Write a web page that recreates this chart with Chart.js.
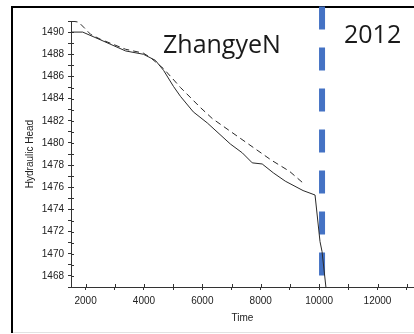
<!DOCTYPE html>
<html>
<head>
<meta charset="utf-8">
<script src="https://cdn.jsdelivr.net/npm/chart.js@4.4.1/dist/chart.umd.min.js"></script>
<style>
html, body { margin: 0; padding: 0; background: #fff; }
#wrap { position: relative; width: 414px; height: 334px; }
</style>
</head>
<body>
<div id="wrap"><canvas id="chart" width="414" height="334"></canvas></div>
<script>
// Data ------------------------------------------------------------------------------

var simTime = [1520, 1900, 2510, 3370, 3980, 4390, 4670, 5010, 5250, 5690, 6170,
               6960, 7370, 7710, 8050, 8430, 8840, 9450, 9860, 10030, 10100, 10240];
var simHead = [1490.0, 1490.0, 1489.3, 1488.3, 1488.0, 1487.45, 1486.55, 1485.1, 1484.2,
               1482.8, 1481.8, 1479.9, 1479.1, 1478.2, 1478.1, 1477.3, 1476.55, 1475.7,
               1475.3, 1471.1, 1470.2, 1466.8];

var obsTime = [1520, 1760, 1930, 2170, 2510, 3370, 3980, 4220, 4670, 4980, 5250,
               5930, 6340, 7200, 7740, 8360, 8980, 9420];
var obsHead = [1491.0, 1490.9, 1490.45, 1489.8, 1489.35, 1488.45, 1488.1, 1487.7, 1486.7,
               1485.8, 1485.0, 1483.2, 1482.2, 1480.6, 1479.6, 1478.45, 1477.45, 1476.45];

var markerTime = [10100, 10100];
var markerHead = [1492.3, 1467];

var xTickValues = [2000, 3000, 4000, 5000, 6000, 7000, 8000, 9000, 10000, 11000, 12000, 13000];
var yTickValues = [];
for (var v = 1467; v <= 1491; v++) yTickValues.push(v);

var STATION_LABEL = 'ZhangyeN';
var YEAR_LABEL = '2012';

// Helpers ---------------------------------------------------------------------------

function toPoints(xs, ys) {
    return xs.map(function (x, i) { return { x: x, y: ys[i] }; });
}

var TICK_FONT = { family: 'Liberation Sans', size: 10 };
var INK = '#222';

var framePlugin = {
    id: 'frame',
    beforeDraw: function (chart) {
        var ctx = chart.ctx;
        ctx.save();
        ctx.fillStyle = '#fff';
        ctx.fillRect(0, 0, chart.width, chart.height);
        ctx.fillStyle = '#000';
        ctx.fillRect(11, 6, chart.width - 11, 2);
        ctx.fillRect(11, 6, 2, 327);
        ctx.fillStyle = '#e2e2e2';
        ctx.fillRect(13, 332, chart.width - 13, 1);
        ctx.restore();
    },
    afterDraw: function (chart) {
        var ctx = chart.ctx;
        var xs = chart.scales.x, ys = chart.scales.y;
        ctx.save();
        // inner half of the cross ticks
        ctx.strokeStyle = '#333';
        ctx.lineWidth = 1;
        ctx.beginPath();
        xs.ticks.forEach(function (t) {
            var px = Math.round(xs.getPixelForValue(t.value)) + 0.5;
            ctx.moveTo(px, xs.top);
            ctx.lineTo(px, xs.top - 3);
        });
        ys.ticks.forEach(function (t) {
            var py = Math.round(ys.getPixelForValue(t.value)) + 0.5;
            ctx.moveTo(ys.right, py);
            ctx.lineTo(ys.right + 3, py);
        });
        ctx.stroke();
        // annotations
        ctx.fillStyle = '#1a1a1a';
        ctx.font = '25px "Open Sans"';
        ctx.textBaseline = 'alphabetic';
        ctx.fillText(STATION_LABEL, 163, 53);
        ctx.fillText(YEAR_LABEL, 344, 43);
        ctx.restore();
    }
};

// Chart -----------------------------------------------------------------------------

new Chart(document.getElementById('chart').getContext('2d'), {
    type: 'line',
    data: {
        datasets: [{
            label: 'simulated',
            data: toPoints(simTime, simHead),
            borderColor: '#2a2a2a',
            borderWidth: 1,
            pointRadius: 0,
            tension: 0
        }, {
            label: 'observed',
            data: toPoints(obsTime, obsHead),
            borderColor: '#2a2a2a',
            borderWidth: 1,
            borderDash: [6, 4],
            pointRadius: 0,
            tension: 0
        }, {
            label: 'year',
            data: toPoints(markerTime, markerHead),
            borderColor: '#4472c4',
            borderWidth: 6,
            borderDash: [23, 18],
            pointRadius: 0,
            clip: false
        }]
    },
    options: {
        responsive: false,
        animation: false,
        devicePixelRatio: 1,
        layout: { padding: { top: 21, left: 0, right: 0, bottom: 0 } },
        plugins: { legend: { display: false }, tooltip: { enabled: false } },
        scales: {
            x: {
                type: 'linear',
                min: 1500,
                max: 13250,
                afterBuildTicks: function (s) { s.ticks = xTickValues.map(function (v) { return { value: v }; }); },
                afterFit: function (s) { s.height = 47; },
                ticks: {
                    autoSkip: false,
                    maxRotation: 0,
                    padding: 5,
                    color: INK,
                    font: TICK_FONT,
                    callback: function (v) { return v % 2000 === 0 ? String(v) : ''; }
                },
                grid: { drawOnChartArea: false, drawTicks: true, tickLength: 3, color: '#333' },
                border: { display: true, color: '#333', width: 1 },
                title: { display: true, text: 'Time', color: INK, font: TICK_FONT, padding: { top: 0, bottom: 10 } }
            },
            y: {
                type: 'linear',
                min: 1467,
                max: 1491,
                afterBuildTicks: function (s) { s.ticks = yTickValues.map(function (v) { return { value: v }; }); },
                afterFit: function (s) { s.width = 71; },
                ticks: {
                    autoSkip: false,
                    padding: 4,
                    color: INK,
                    font: TICK_FONT,
                    callback: function (v) { return v % 2 === 0 ? String(v) : ''; }
                },
                grid: { drawOnChartArea: false, drawTicks: true, tickLength: 3, color: '#333' },
                border: { display: true, color: '#333', width: 1 },
                title: { display: true, text: 'Hydraulic Head', color: INK, font: TICK_FONT, padding: { top: 24, bottom: 0 } }
            }
        }
    },
    plugins: [framePlugin]
});
</script>
</body>
</html>
